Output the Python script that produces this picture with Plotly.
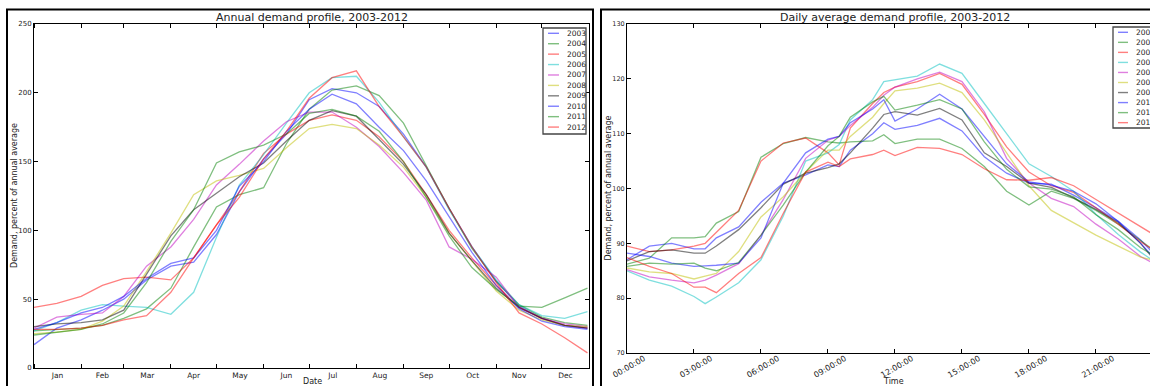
import plotly.graph_objects as go
import pandas as pd

W, H = 1150, 386

years = ['2003', '2004', '2005', '2006', '2007', '2008', '2009', '2010', '2011', '2012']

# ---------------- Annual profile (day of year -> percent of annual average)
annual_days = [0, 15, 31, 45, 59, 74, 90, 105, 120, 135, 151, 166, 181, 196, 212, 227,
               243, 258, 273, 288, 304, 319, 334, 349, 364]
annual_2003 = [17, 29, 35, 42, 50, 64, 74, 77, 97, 128, 152, 170, 195, 203, 200, 190, 170, 146, 116, 88, 63, 45, 36, 31, 29]
annual_2004 = [27, 28, 29, 31, 36, 43, 58, 88, 117, 126, 131, 163, 188, 202, 205, 198, 178, 147, 116, 87, 63, 46, 37, 33, 31]
annual_2005 = [44, 47, 52, 60, 65, 66, 64, 80, 104, 128, 156, 170, 180, 184, 180, 168, 150, 126, 100, 80, 60, 44, 36, 31, 29]
annual_2006 = [27, 33, 42, 46, 45, 44, 39, 55, 95, 133, 155, 178, 200, 211, 212, 193, 168, 146, 115, 88, 64, 46, 38, 36, 41]
annual_2007 = [29, 37, 39, 40, 52, 74, 88, 108, 133, 148, 165, 179, 186, 186, 175, 161, 142, 122, 88, 79, 66, 44, 36, 32, 30]
annual_2008 = [25, 26, 28, 34, 45, 70, 98, 126, 136, 140, 145, 160, 174, 177, 174, 162, 146, 124, 98, 78, 56, 42, 35, 31, 30]
annual_2009 = [30, 32, 33, 35, 42, 68, 96, 115, 127, 139, 149, 165, 180, 187, 183, 166, 148, 126, 98, 78, 58, 44, 36, 31, 29]
annual_2010 = [28, 33, 40, 44, 52, 65, 76, 80, 100, 132, 150, 172, 188, 199, 192, 175, 158, 136, 110, 84, 60, 43, 34, 30, 28]
annual_2011 = [24, 26, 28, 32, 40, 62, 92, 115, 149, 157, 162, 170, 185, 188, 183, 172, 150, 124, 96, 73, 57, 45, 44, 51, 58]
annual_2012 = [28, 28, 29, 31, 35, 38, 55, 80, 104, 124, 152, 172, 196, 211, 216, 190, 168, 146, 116, 88, 62, 40, 32, 22, 11]

# ---------------- Daily profile (hour of day -> percent of annual average)
daily_hours = [0, 1, 2, 3, 3.5, 4, 5, 6, 7, 8, 9, 9.5, 10, 11, 11.5, 12, 13, 14, 15, 16, 17,
               18, 19, 20, 21, 22, 23, 23.5]
daily_2003 = [87.0, 89.5, 90.0, 89.0, 89.0, 91.0, 93.0, 97.5, 101.0, 102.5, 104.3, 104.0, 107.0, 110.0, 112.0, 110.8, 111.5, 112.8, 110.5, 105.8, 102.8, 101.0, 100.8, 98.8, 96.5, 94.0, 90.6, 88.5]
daily_2004 = [86.2, 87.3, 91.0, 91.0, 91.2, 93.7, 95.8, 105.7, 108.2, 109.3, 108.5, 108.3, 108.5, 108.7, 109.8, 108.2, 109.0, 109.0, 107.3, 104.0, 99.5, 97.0, 99.5, 98.2, 96.0, 93.5, 90.5, 89.0]
daily_2005 = [89.5, 88.5, 88.8, 89.5, 90.0, 92.0, 96.0, 105.0, 108.3, 109.2, 106.5, 104.3, 111.0, 115.5, 117.5, 118.5, 119.5, 121.0, 119.0, 113.5, 107.6, 103.0, 100.5, 99.3, 96.5, 93.5, 90.3, 89.0]
daily_2006 = [85.0, 83.3, 82.2, 80.3, 79.0, 80.2, 82.8, 87.0, 95.0, 105.0, 106.5, 108.0, 112.5, 116.2, 119.5, 119.8, 120.5, 122.7, 121.0, 115.5, 110.0, 104.5, 102.2, 99.5, 95.3, 91.6, 88.4, 87.0]
daily_2007 = [85.2, 83.9, 83.3, 82.8, 83.3, 84.2, 86.3, 91.5, 98.0, 105.5, 108.8, 109.5, 111.5, 114.8, 117.0, 118.5, 120.0, 121.2, 119.5, 114.0, 105.5, 101.0, 98.2, 96.7, 93.5, 90.8, 87.6, 86.5]
daily_2008 = [85.5, 84.8, 84.5, 83.5, 84.0, 84.5, 88.5, 94.8, 98.5, 103.0, 107.0, 107.0, 109.5, 113.0, 115.5, 117.8, 118.3, 119.2, 117.5, 112.5, 106.5, 100.5, 96.0, 93.8, 91.5, 89.5, 87.5, 87.0]
daily_2009 = [86.8, 88.5, 88.8, 88.2, 88.2, 89.5, 92.5, 96.5, 100.8, 102.8, 103.8, 104.5, 106.5, 111.0, 113.5, 114.0, 113.4, 114.6, 112.5, 106.5, 104.0, 101.0, 100.2, 98.3, 96.2, 93.8, 90.0, 87.5]
daily_2010 = [88.2, 87.6, 86.4, 85.8, 85.9, 86.0, 86.4, 91.0, 101.0, 106.5, 109.0, 109.5, 112.0, 114.5, 116.2, 112.3, 114.5, 117.2, 114.5, 109.5, 104.5, 101.2, 100.6, 99.5, 97.2, 94.0, 90.0, 87.8]
daily_2011 = [85.8, 86.4, 86.2, 86.4, 85.5, 85.0, 86.5, 91.5, 97.0, 103.0, 107.8, 109.5, 113.0, 115.8, 116.8, 114.3, 115.2, 116.2, 114.5, 108.5, 103.5, 100.3, 99.9, 98.5, 95.2, 92.5, 89.2, 88.0]
daily_2012 = [87.4, 85.8, 84.5, 82.0, 82.0, 81.0, 84.5, 87.4, 95.5, 103.0, 104.8, 104.0, 105.4, 106.2, 107.0, 106.0, 107.5, 107.3, 106.2, 103.6, 101.6, 101.5, 102.0, 100.5, 98.0, 95.5, 93.0, 91.8]

year_start = pd.Timestamp('2001-01-01')
time_tick_hours = [0, 3, 6, 9, 12, 15, 18, 21]
time_tick_labels = ['00:00:00', '03:00:00', '06:00:00', '09:00:00', '12:00:00', '15:00:00', '18:00:00', '21:00:00']
annual_yticks = [0, 50, 100, 150, 200, 250]
daily_yticks = [70, 80, 90, 100, 110, 120, 130]

annual_series = [annual_2003, annual_2004, annual_2005, annual_2006, annual_2007,
                 annual_2008, annual_2009, annual_2010, annual_2011, annual_2012]
daily_series = [daily_2003, daily_2004, daily_2005, daily_2006, daily_2007,
                daily_2008, daily_2009, daily_2010, daily_2011, daily_2012]

# matplotlib classic colour cycle (b, g, r, c, m, y, k) with alpha 0.5
A = 0.5
colors = [f'rgba(0,0,255,{A})', f'rgba(0,128,0,{A})', f'rgba(255,0,0,{A})',
          f'rgba(0,191,191,{A})', f'rgba(191,0,191,{A})', f'rgba(191,191,0,{A})',
          f'rgba(0,0,0,{A})', f'rgba(0,0,255,{A})', f'rgba(0,128,0,{A})', f'rgba(255,0,0,{A})']

FONT = 'DejaVu Sans'
LW = 1.3


def px(x):
    return x / W


def py(y):
    return 1 - y / H


dates = year_start + pd.to_timedelta(annual_days, unit='D')

fig = go.Figure()
for yr, vals, c in zip(years, annual_series, colors):
    fig.add_trace(go.Scatter(x=dates, y=vals, mode='lines', name=yr,
                             line=dict(color=c, width=LW),
                             xaxis='x', yaxis='y', showlegend=False))
for yr, vals, c in zip(years, daily_series, colors):
    fig.add_trace(go.Scatter(x=daily_hours, y=vals, mode='lines', name=yr,
                             line=dict(color=c, width=LW),
                             xaxis='x2', yaxis='y2', showlegend=False))

axis_common = dict(showgrid=False, zeroline=False, showline=True, linecolor='black',
                   linewidth=1, ticks='inside', ticklen=4, tickcolor='black', tickwidth=1)

fig.update_layout(
    width=W, height=H,
    margin=dict(l=0, r=0, t=0, b=0, autoexpand=False),
    paper_bgcolor='white', plot_bgcolor='white',
    font=dict(family=FONT, color='#222'),
    xaxis=dict(domain=[px(34), px(589)], type='date',
               range=['2001-01-01', '2002-01-01'], tick0='2001-01-01', dtick='M1',
               tickformat='%b', ticklabelmode='period', mirror='allticks',
               tickfont=dict(size=7.5), anchor='y', **axis_common),
    yaxis=dict(domain=[py(368), py(24)], range=[0, 250], tickvals=annual_yticks,
               mirror='allticks', tickfont=dict(size=7), anchor='x', **axis_common),
    xaxis2=dict(domain=[px(627), 1.0], range=[0, 23.42], tickvals=time_tick_hours,
                ticktext=time_tick_labels, tickangle=-30, ticklabelshift=17,
                ticklabelstandoff=-3,
                mirror='allticks', tickfont=dict(size=8), anchor='y2', **axis_common),
    yaxis2=dict(domain=[py(353), py(24)], range=[70, 130], tickvals=daily_yticks,
                mirror=False, tickfont=dict(size=6.5), anchor='x2', **axis_common),
)

annotations = [
    dict(text='Annual demand profile, 2003-2012', x=px(312), y=py(17), size=11),
    dict(text='Daily average demand profile, 2003-2012', x=px(895), y=py(17), size=11),
    dict(text='Date', x=px(312), y=py(381.5), size=8),
    dict(text='Time', x=px(893), y=py(381), size=8),
]
anns = []
for a in annotations:
    anns.append(dict(text=a['text'], x=a['x'], y=a['y'], xref='paper', yref='paper',
                     xanchor='center', yanchor='middle', showarrow=False,
                     font=dict(size=a['size'], family=FONT, color='#222')))
for xx, yy in ((px(14), py(196)), (px(608), py(188.5))):
    anns.append(dict(text='Demand, percent of annual average', x=xx, y=yy,
                     xref='paper', yref='paper',
                     textangle=-90, xanchor='center', yanchor='middle', showarrow=False,
                     font=dict(size=8, family=FONT, color='#222')))

shapes = []
# figure frames (two screenshots side by side)
shapes.append(dict(type='rect', xref='paper', yref='paper', x0=px(7), x1=px(593),
                   y0=py(420), y1=py(9.5), line=dict(color='black', width=2)))
shapes.append(dict(type='rect', xref='paper', yref='paper', x0=px(601), x1=px(1200),
                   y0=py(420), y1=py(9.5), line=dict(color='black', width=2)))


def add_legend(box, x_line, x_text, y0, dy):
    shapes.append(dict(type='rect', xref='paper', yref='paper', x0=px(box[0]), x1=px(box[1]),
                       y0=py(box[3]), y1=py(box[2]), line=dict(color='#444', width=1.3),
                       fillcolor='white', layer='above'))
    for i, (yr, c) in enumerate(zip(years, colors)):
        yy = y0 + dy * i
        shapes.append(dict(type='line', xref='paper', yref='paper', x0=px(x_line[0]),
                           x1=px(x_line[1]), y0=py(yy), y1=py(yy),
                           line=dict(color=c, width=1.4), layer='above'))
        anns.append(dict(text=yr, x=px(x_text), y=py(yy), xref='paper', yref='paper',
                         xanchor='left', yanchor='middle', showarrow=False,
                         font=dict(size=7.5, family=FONT, color='#222')))


add_legend((543, 586, 28, 134), (548, 559), 565, 33.3, 10.42)
add_legend((1113, 1175, 27, 128), (1118, 1128), 1134, 32.3, 10.04)

fig.update_layout(annotations=anns, shapes=shapes)

fig.write_html("out.html", config={'displayModeBar': False},
               post_script="document.body.style.margin='0';document.body.style.overflow='hidden';")
